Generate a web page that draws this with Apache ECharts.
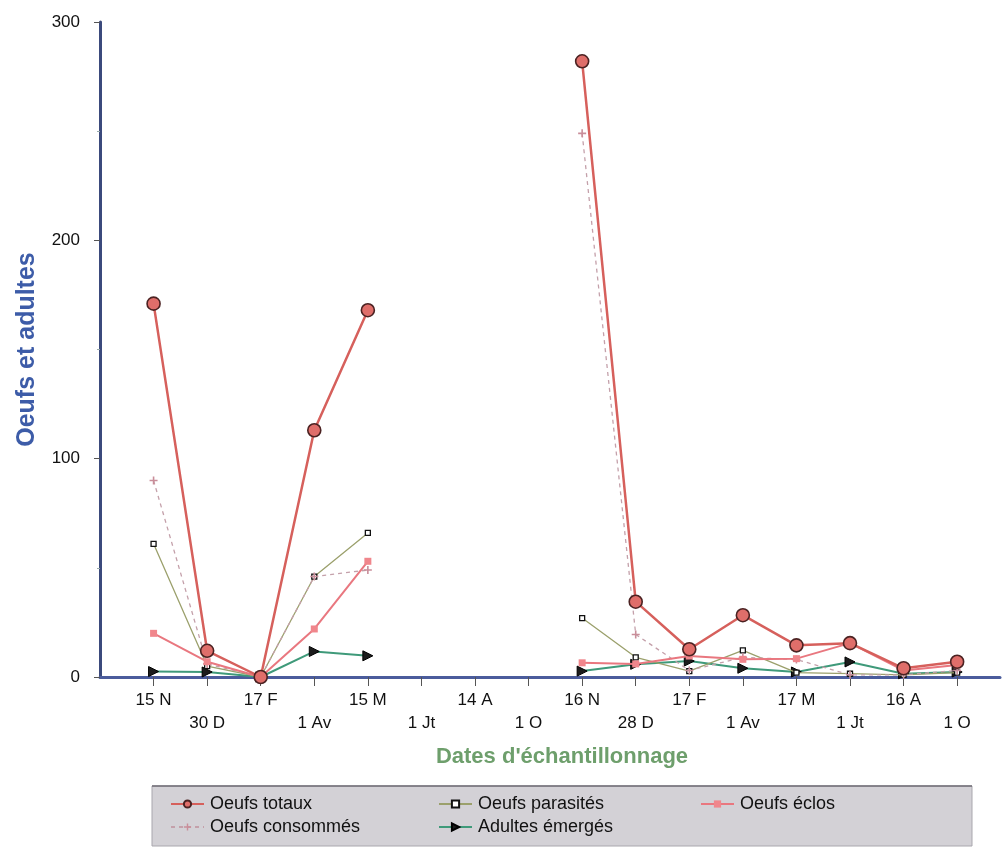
<!DOCTYPE html>
<html>
<head>
<meta charset="utf-8">
<script src="https://cdn.jsdelivr.net/npm/echarts@6/dist/echarts.min.js"></script>
<style>
  html, body { margin: 0; padding: 0; background: #fff; }
  #chart { width: 1002px; height: 860px; }
</style>
</head>
<body>
<div id="chart"></div>
<script>
// dates d'échantillonnage (deux campagnes)
const dates = ["15 N", "30 D", "17 F", "1 Av", "15 M", "1 Jt", "14 A", "1 O",
               "16 N", "28 D", "17 F", "1 Av", "17 M", "1 Jt", "16 A", "1 O"];
const yTicks = [0, 100, 200, 300];

// séries (null = pas de prélèvement)
const oeufsTotaux     = [171, 12, 0, 113, 168, null, null, null, 282, 34.5, 12.7, 28.3, 14.5, 15.5, 4, 7];
const oeufsParasites  = [61, 5, 0, 46, 66, null, null, null, 27, 9, 2.7, 12.2, 2, 1.5, 1, 2];
const oeufsEclos      = [20, 7, 0, 22, 53, null, null, null, 6.5, 6, 9.6, 8.1, 8.4, 15.5, 3, 5.5];
const oeufsConsommes  = [90, 6, 0, 46, 49, null, null, null, 249, 19.5, 3, 9, 8, 1, 1, 3];
const adultesEmerges  = [2.5, 2.3, 0, 11.7, 9.7, null, null, null, 2.7, 5.8, 7.3, 4, 2.3, 6.9, 1.5, 2.3];

const FONT = "Liberation Sans";
const pts = (arr) => arr.map((v, i) => [i, v === null ? "-" : v]);
const plusPath = "path://M4,0H6V4H10V6H6V10H4V6H0V4H4Z";

const chart = echarts.init(document.getElementById("chart"));

const legendText = { fontSize: 18, color: "#111", padding: [0, 0, 0, 1], fontFamily: FONT };

chart.setOption({
  backgroundColor: "#ffffff",
  animation: false,
  textStyle: { fontFamily: FONT },
  grid: { left: 100, right: 2, top: 22, bottom: 183 },
  graphic: [
    {
      type: "rect",
      shape: { x: 152, y: 786, width: 820, height: 60 },
      style: { fill: "#d3d1d6", stroke: "#a9a7ae", lineWidth: 1 },
      z: 0,
    },
    {
      type: "line",
      shape: { x1: 152, y1: 786, x2: 972, y2: 786 },
      style: { stroke: "#6f6d74", lineWidth: 1.5 },
      z: 1,
    },
  ],
  legend: [
    {
      data: ["Oeufs totaux", "Oeufs consommés"],
      orient: "vertical", left: 165, top: 790, itemGap: 5,
      itemWidth: 33, itemHeight: 9,
      textStyle: legendText,
    },
    {
      data: ["Oeufs parasités", "Adultes émergés"],
      orient: "vertical", left: 433, top: 790, itemGap: 5,
      itemWidth: 33, itemHeight: 9,
      textStyle: legendText,
    },
    {
      data: ["Oeufs éclos"],
      orient: "vertical", left: 695, top: 790,
      itemWidth: 33, itemHeight: 9,
      textStyle: legendText,
    },
  ],
  xAxis: {
    type: "value",
    min: -1,
    max: 15.8,
    interval: 1,
    name: "Dates d'échantillonnage",
    nameLocation: "middle",
    nameGap: 69,
    nameTextStyle: {
      fontSize: 22, fontWeight: "bold", color: "#6e9f6c",
      fontFamily: FONT, padding: [0, 0, 0, 24],
    },
    splitLine: { show: false },
    axisLine: { onZero: false, lineStyle: { color: "#4b5c9c", width: 3 } },
    axisTick: {
      customValues: dates.map((d, i) => i),
      length: 9,
      lineStyle: { color: "#555", width: 1 },
    },
    axisLabel: {
      customValues: dates.map((d, i) => i),
      margin: 12,
      fontSize: 17,
      lineHeight: 23,
      color: "#111",
      formatter: (v) => {
        const lab = dates[Math.round(v)];
        if (lab === undefined) return "";
        return Math.round(v) % 2 === 1 ? "\n" + lab : lab;
      },
    },
  },
  yAxis: {
    type: "value",
    min: yTicks[0],
    max: yTicks[yTicks.length - 1],
    interval: 100,
    name: "Oeufs et adultes",
    nameLocation: "middle",
    nameGap: 60,
    nameRotate: 90,
    nameTextStyle: { fontSize: 25, fontWeight: "bold", color: "#3d5ca8", fontFamily: FONT },
    splitLine: { show: false },
    axisLine: { show: true, onZero: false, lineStyle: { color: "#3b4a7c", width: 3 } },
    axisTick: { show: true, length: 6, lineStyle: { color: "#555" } },
    minorTick: { show: true, splitNumber: 2, length: 3, lineStyle: { color: "#9aa" } },
    axisLabel: { fontSize: 17, color: "#111", margin: 20 },
  },
  series: [
    {
      name: "Adultes émergés",
      type: "line",
      data: pts(adultesEmerges),
      symbol: "triangle",
      symbolRotate: -90,
      symbolSize: 10,
      lineStyle: { color: "#3f9a7a", width: 2 },
      itemStyle: { color: "#1c1c1c", borderColor: "#000", borderWidth: 1 },
      z: 2,
    },
    {
      name: "Oeufs parasités",
      type: "line",
      data: pts(oeufsParasites),
      symbol: "rect",
      symbolSize: 5,
      lineStyle: { color: "#9ba06c", width: 1.3 },
      itemStyle: { color: "#ffffff", borderColor: "#111", borderWidth: 1.3 },
      z: 3,
    },
    {
      name: "Oeufs consommés",
      type: "line",
      data: pts(oeufsConsommes),
      symbol: plusPath,
      symbolSize: 8,
      lineStyle: { color: "#c4a0aa", width: 1.3, type: [4, 4] },
      itemStyle: { color: "#c98e9a" },
      z: 3,
    },
    {
      name: "Oeufs éclos",
      type: "line",
      data: pts(oeufsEclos),
      symbol: "rect",
      symbolSize: 7,
      lineStyle: { color: "#e9777f", width: 2 },
      itemStyle: { color: "#f0868c" },
      z: 4,
    },
    {
      name: "Oeufs totaux",
      type: "line",
      data: pts(oeufsTotaux),
      symbol: "circle",
      symbolSize: 13,
      lineStyle: { color: "#d6605c", width: 2.5 },
      itemStyle: { color: "#df6e6a", borderColor: "#4b2222", borderWidth: 1.6 },
      z: 5,
    },
  ],
});
</script>
</body>
</html>
